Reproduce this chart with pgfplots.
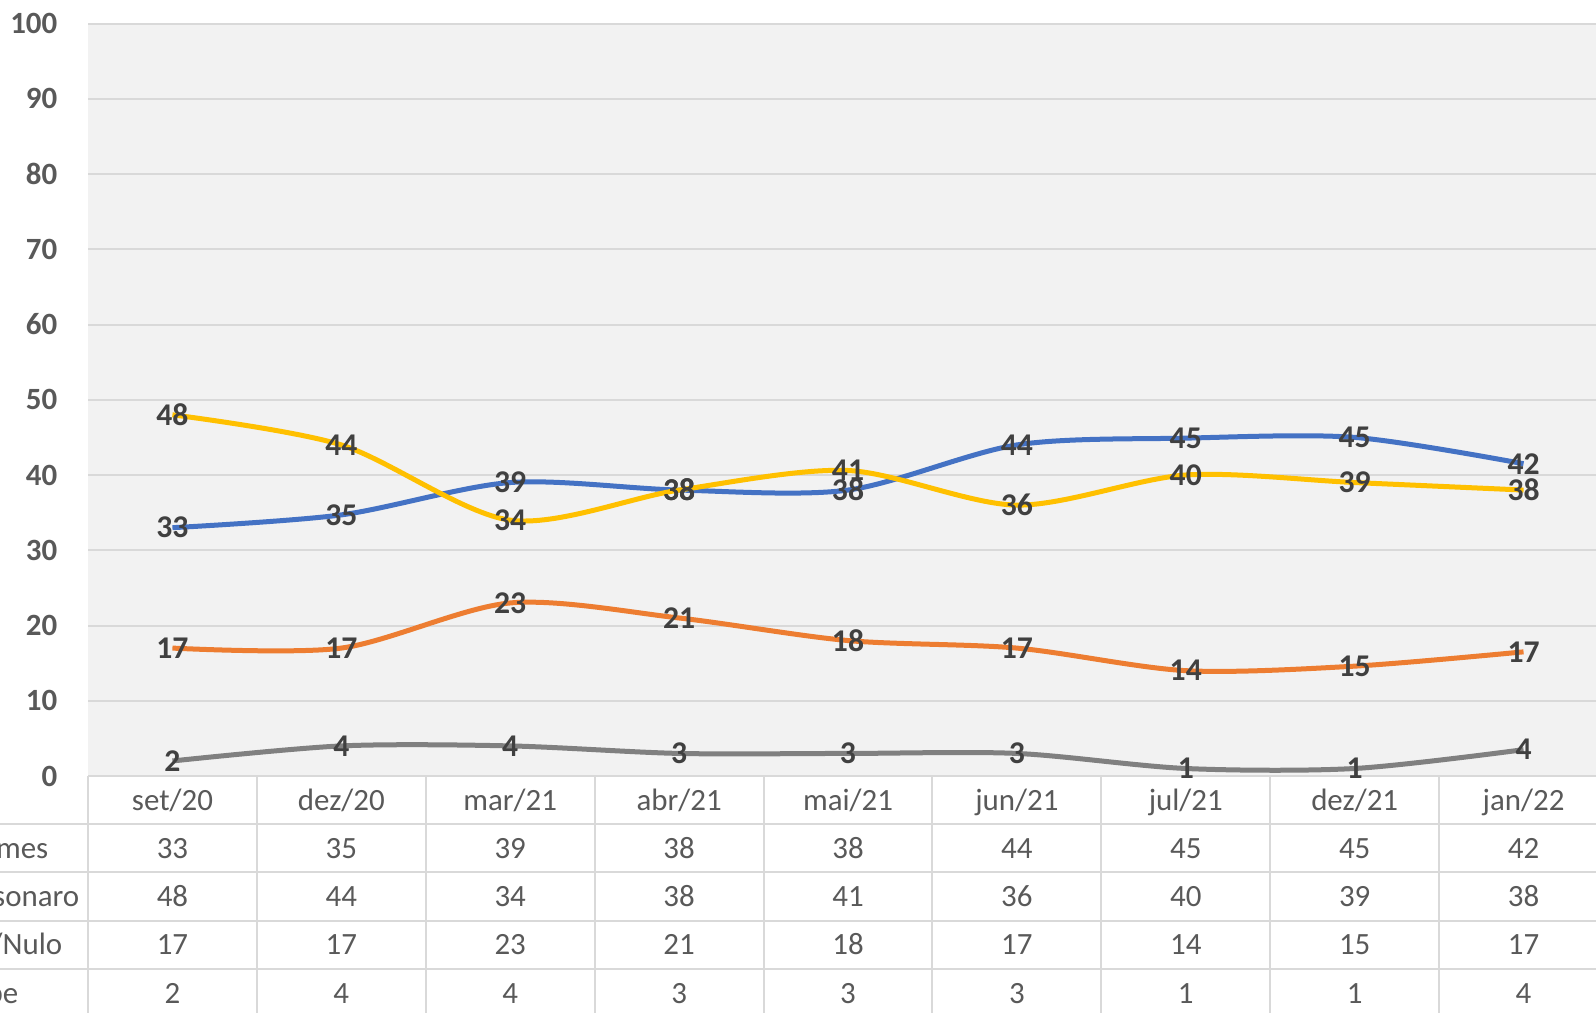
\documentclass[border=0pt]{standalone}
\usepackage{pgfplots}
\usepackage{pgfplotstable}
\pgfplotsset{compat=1.18}
\usepackage{fontspec}
\setmainfont{Carlito}
\definecolor{cblue}{RGB}{68,114,196}
\definecolor{cgold}{RGB}{255,192,0}
\definecolor{corange}{RGB}{237,125,49}
\definecolor{cgray}{RGB}{128,128,128}
\definecolor{gridc}{RGB}{217,217,217}
\definecolor{bgc}{RGB}{242,242,242}
\definecolor{txt}{RGB}{89,89,89}
\definecolor{lbl}{RGB}{64,64,64}

% plotted values and the rounded values shown in the data table
\pgfplotstableread{
i mes ciro bolso branco ns ciroT bolsoT brancoT nsT
0 set/20 33.0 48.0 17.0 2.0 33 48 17 2
1 dez/20 34.7 44.0 17.0 4.0 35 44 17 4
2 mar/21 39.0 34.0 23.0 4.0 39 34 23 4
3 abr/21 38.0 38.0 21.0 3.0 38 38 21 3
4 mai/21 38.0 40.6 18.0 3.0 38 41 18 3
5 jun/21 44.0 36.0 17.0 3.0 44 36 17 3
6 jul/21 44.9 40.0 14.0 1.0 45 40 14 1
7 dez/21 45.0 39.0 14.6 1.0 45 39 15 1
8 jan/22 41.5 38.0 16.5 3.5 42 38 17 4
}\datatable

\newcommand{\chartfont}{\fontsize{8.8}{10}\selectfont}

\begin{document}
\begin{tikzpicture}
\useasboundingbox (-0.88,-2.36) rectangle (15.08,7.76);
\clip (-0.88,-2.36) rectangle (15.08,7.76);
% data table grid
\foreach \yy in {-0.48,-0.96,-1.45,-1.93}
  \draw[gridc, line width=0.02cm] (-0.88,\yy) -- (15.3,\yy);
\foreach \k in {0,...,9}
  \draw[gridc, line width=0.02cm] ({\k*15.2/9},0) -- ({\k*15.2/9},-2.5);
% data table text
\foreach \i in {0,...,8}{
  \pgfplotstablegetelem{\i}{mes}\of\datatable
  \node[anchor=base, inner sep=0pt, text=txt, font=\chartfont] at ({(\i+0.5)*15.2/9},-0.34) {\pgfplotsretval};
  \pgfplotstablegetelem{\i}{ciroT}\of\datatable
  \node[anchor=base, inner sep=0pt, text=txt, font=\chartfont] at ({(\i+0.5)*15.2/9},-0.82) {\pgfplotsretval};
  \pgfplotstablegetelem{\i}{bolsoT}\of\datatable
  \node[anchor=base, inner sep=0pt, text=txt, font=\chartfont] at ({(\i+0.5)*15.2/9},-1.305) {\pgfplotsretval};
  \pgfplotstablegetelem{\i}{brancoT}\of\datatable
  \node[anchor=base, inner sep=0pt, text=txt, font=\chartfont] at ({(\i+0.5)*15.2/9},-1.785) {\pgfplotsretval};
  \pgfplotstablegetelem{\i}{nsT}\of\datatable
  \node[anchor=base, inner sep=0pt, text=txt, font=\chartfont] at ({(\i+0.5)*15.2/9},-2.27) {\pgfplotsretval};
}
\node[anchor=base east, inner sep=0pt, text=txt, font=\chartfont] at (-0.39,-0.82) {Ciro Gomes};
\node[anchor=base east, inner sep=0pt, text=txt, font=\chartfont] at (-0.08,-1.305) {Jair Bolsonaro};
\node[anchor=base east, inner sep=0pt, text=txt, font=\chartfont] at (-0.25,-1.785) {Branco/Nulo};
\node[anchor=base east, inner sep=0pt, text=txt, font=\chartfont] at (-0.69,-2.27) {Não sabe};

\begin{axis}[
  at={(0,0)}, anchor=south west,
  scale only axis, width=15.2cm, height=7.525cm,
  xmin=-0.5, xmax=8.5, ymin=0, ymax=100,
  ytick={0,10,...,100}, xtick=\empty,
  ymajorgrids, grid style={gridc, line width=0.02cm},
  axis line style={draw=none},
  major tick length=0pt,
  axis background/.style={fill=bgc},
  /pgf/number format/assume math mode=true,
  yticklabel style={font=\bfseries\chartfont, text=txt, inner sep=0pt, xshift=-0.3cm},
  clip=false,
  every axis plot/.append style={smooth, tension=0.5, line width=0.05cm, no markers,
    nodes near coords,
    every node near coord/.style={anchor=center, inner sep=0pt, text=lbl,
      font=\bfseries\fontsize{9}{10}\selectfont,
      /pgf/number format/.cd, fixed, precision=0}},
]
\addplot[cblue] table[x=i, y=ciro] {\datatable};
\addplot[cgold] table[x=i, y=bolso] {\datatable};
\addplot[corange] table[x=i, y=branco] {\datatable};
\addplot[cgray] table[x=i, y=ns] {\datatable};
\end{axis}
\end{tikzpicture}
\end{document}
